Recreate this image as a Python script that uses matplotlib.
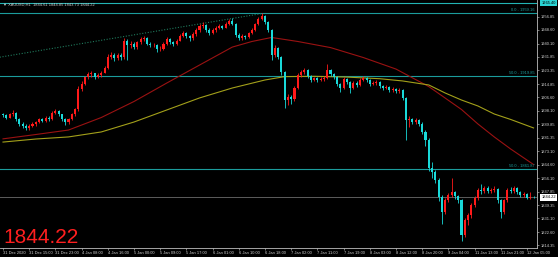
import matplotlib
matplotlib.use("Agg")
from matplotlib import pyplot as plt
from matplotlib import transforms

#%% Data (XAUUSD H1)
opens = [1896.0, 1895.5, 1894.0, 1896.0, 1897.0, 1893.0, 1890.0, 1889.0, 1887.5, 1889.0,
         1890.0, 1891.0, 1893.0, 1892.0, 1894.0, 1893.0, 1897.0, 1898.0, 1896.0, 1893.0,
         1891.0, 1893.0, 1896.0, 1899.0, 1912.0, 1915.0, 1919.0, 1921.0, 1921.5, 1919.5,
         1920.5, 1922.0, 1925.0, 1932.0, 1933.0, 1931.0, 1933.0, 1931.5, 1942.0, 1939.0,
         1940.0, 1938.0, 1941.0, 1943.0, 1943.5, 1940.0, 1939.0, 1939.5, 1936.5, 1937.0,
         1940.0, 1943.0, 1941.0, 1940.0, 1942.0, 1944.8, 1946.7, 1944.8, 1943.5, 1946.0,
         1948.5, 1951.0, 1951.7, 1948.6, 1946.8, 1948.5, 1950.0, 1951.0, 1950.0, 1952.3,
         1954.2, 1952.3, 1945.4, 1943.6, 1944.8, 1944.0, 1946.7, 1948.6, 1952.3, 1955.4,
         1957.3, 1953.5, 1948.6, 1933.0, 1937.3, 1932.0, 1922.4, 1904.9, 1906.8, 1905.5,
         1912.4, 1920.5, 1922.4, 1923.6, 1920.0, 1917.4, 1918.6, 1917.4, 1918.0, 1918.6,
         1923.6, 1921.1, 1919.2, 1914.9, 1912.4, 1918.0, 1916.1, 1912.4, 1915.5, 1914.3,
         1917.4, 1918.6, 1917.4, 1914.9, 1915.5, 1916.1, 1913.7, 1912.4, 1913.0, 1911.2,
         1911.8, 1910.5, 1911.2, 1906.2, 1892.5, 1893.1, 1891.2, 1892.5, 1890.0, 1885.0,
         1880.0, 1862.5, 1860.0, 1855.0, 1844.5, 1835.1, 1842.6, 1845.7, 1847.6, 1845.1,
         1842.6, 1820.8, 1830.1, 1833.2, 1839.5, 1843.8, 1848.8, 1848.2, 1850.0, 1848.2,
         1848.8, 1849.4, 1842.6, 1835.1, 1842.6, 1848.8, 1848.2, 1850.0, 1847.6, 1845.7,
         1846.3, 1843.8, 1844.61]
closes = [1895.5, 1894.0, 1896.0, 1897.0, 1893.0, 1890.0, 1889.0, 1887.5, 1889.0, 1890.0,
          1891.0, 1893.0, 1892.0, 1894.0, 1893.0, 1897.0, 1898.0, 1896.0, 1893.0, 1891.0,
          1893.0, 1896.0, 1899.0, 1912.0, 1915.0, 1919.0, 1921.0, 1921.5, 1919.5, 1920.5,
          1922.0, 1925.0, 1932.0, 1933.0, 1931.0, 1933.0, 1931.5, 1942.0, 1939.0, 1940.0,
          1938.0, 1941.0, 1943.0, 1943.5, 1940.0, 1939.0, 1939.5, 1936.5, 1937.0, 1940.0,
          1943.0, 1941.0, 1940.0, 1942.0, 1944.8, 1946.7, 1944.8, 1943.5, 1946.0, 1948.5,
          1951.0, 1951.7, 1948.6, 1946.8, 1948.5, 1950.0, 1951.0, 1950.0, 1952.3, 1954.2,
          1952.3, 1945.4, 1943.6, 1944.8, 1944.0, 1946.7, 1948.6, 1952.3, 1955.4, 1957.3,
          1953.5, 1948.6, 1933.0, 1937.3, 1932.0, 1922.4, 1904.9, 1906.8, 1905.5, 1912.4,
          1920.5, 1922.4, 1923.6, 1920.0, 1917.4, 1918.6, 1917.4, 1918.0, 1918.6, 1923.6,
          1921.1, 1919.2, 1914.9, 1912.4, 1918.0, 1916.1, 1912.4, 1915.5, 1914.3, 1917.4,
          1918.6, 1917.4, 1914.9, 1915.5, 1916.1, 1913.7, 1912.4, 1913.0, 1911.2, 1911.8,
          1910.5, 1911.2, 1906.2, 1892.5, 1893.1, 1891.2, 1892.5, 1890.0, 1885.0, 1880.0,
          1862.5, 1860.0, 1855.0, 1844.5, 1835.1, 1842.6, 1845.7, 1847.6, 1845.1, 1842.6,
          1820.8, 1830.1, 1833.2, 1839.5, 1843.8, 1848.8, 1848.2, 1850.0, 1848.2, 1848.8,
          1849.4, 1842.6, 1835.1, 1842.6, 1848.8, 1848.2, 1850.0, 1847.6, 1845.7, 1846.3,
          1843.8, 1844.61, 1844.22]
highs = [1897.0, 1896.5, 1897.0, 1898.5, 1897.5, 1893.5, 1891.0, 1890.0, 1890.0, 1891.5,
         1892.0, 1894.0, 1894.0, 1895.0, 1895.0, 1898.0, 1899.5, 1898.5, 1896.5, 1894.0,
         1894.0, 1897.0, 1900.0, 1913.5, 1916.5, 1920.0, 1922.5, 1923.0, 1922.0, 1921.5,
         1923.0, 1926.0, 1933.5, 1935.0, 1934.0, 1934.5, 1934.0, 1943.5, 1943.0, 1941.5,
         1941.0, 1942.0, 1944.5, 1945.0, 1944.0, 1941.0, 1940.5, 1940.0, 1938.5, 1941.0,
         1944.0, 1943.5, 1942.0, 1943.0, 1946.0, 1948.0, 1947.5, 1945.5, 1947.0, 1949.5,
         1952.0, 1953.5, 1952.0, 1949.5, 1949.5, 1951.0, 1952.0, 1951.5, 1953.5, 1955.5,
         1956.0, 1953.0, 1946.5, 1946.0, 1945.5, 1947.5, 1949.5, 1953.0, 1956.5, 1959.2,
         1958.0, 1954.0, 1949.0, 1939.0, 1938.0, 1932.5, 1923.0, 1908.5, 1908.0, 1913.5,
         1921.5, 1923.5, 1925.0, 1924.0, 1920.5, 1919.5, 1919.5, 1919.0, 1920.0, 1927.4,
         1924.5, 1922.0, 1920.0, 1915.5, 1919.0, 1918.5, 1917.0, 1916.5, 1916.5, 1918.5,
         1920.0, 1919.5, 1918.0, 1916.5, 1917.5, 1916.5, 1914.5, 1914.5, 1913.5, 1913.0,
         1912.5, 1912.5, 1912.0, 1907.0, 1895.0, 1894.0, 1894.0, 1893.0, 1891.0, 1886.0,
         1881.0, 1866.0, 1861.5, 1856.0, 1845.5, 1844.0, 1847.0, 1856.3, 1848.5, 1846.0,
         1843.0, 1831.5, 1834.5, 1840.5, 1845.0, 1850.0, 1852.8, 1851.5, 1851.0, 1850.0,
         1851.0, 1850.0, 1843.5, 1843.5, 1850.0, 1850.5, 1851.0, 1850.5, 1848.5, 1847.5,
         1847.0, 1847.5, 1844.85]
lows = [1894.5, 1893.0, 1893.5, 1895.0, 1892.0, 1888.5, 1887.5, 1886.0, 1886.5, 1888.0,
        1889.0, 1890.5, 1891.0, 1891.5, 1892.0, 1892.5, 1896.0, 1895.0, 1892.0, 1889.5,
        1890.0, 1892.5, 1895.0, 1898.0, 1910.5, 1914.0, 1918.0, 1919.5, 1918.0, 1918.5,
        1919.5, 1921.5, 1924.0, 1930.5, 1929.5, 1930.0, 1930.0, 1930.5, 1930.0, 1937.5,
        1936.5, 1937.0, 1940.0, 1942.0, 1939.0, 1938.0, 1938.0, 1935.0, 1935.5, 1936.0,
        1939.5, 1940.0, 1938.5, 1939.0, 1941.5, 1944.0, 1943.5, 1941.5, 1942.5, 1945.0,
        1947.5, 1950.0, 1947.0, 1945.5, 1946.0, 1947.5, 1949.0, 1949.0, 1949.5, 1951.5,
        1951.5, 1944.5, 1942.5, 1942.5, 1943.0, 1943.5, 1946.0, 1948.0, 1951.5, 1954.5,
        1952.5, 1947.0, 1929.9, 1932.0, 1930.5, 1920.5, 1899.9, 1901.5, 1902.5, 1904.5,
        1911.5, 1919.0, 1921.0, 1918.5, 1916.0, 1916.5, 1916.0, 1916.5, 1917.0, 1918.0,
        1920.0, 1918.0, 1913.5, 1910.0, 1911.5, 1915.0, 1909.5, 1911.5, 1913.0, 1913.5,
        1916.5, 1916.0, 1913.5, 1914.0, 1914.5, 1912.5, 1911.0, 1911.5, 1910.0, 1910.0,
        1909.5, 1909.5, 1905.0, 1880.0, 1888.0, 1890.0, 1890.0, 1888.5, 1883.5, 1876.5,
        1860.5, 1856.0, 1853.0, 1842.0, 1827.6, 1834.0, 1841.5, 1844.5, 1843.5, 1841.0,
        1817.0, 1819.5, 1827.0, 1831.5, 1838.0, 1842.5, 1846.5, 1847.0, 1847.0, 1847.0,
        1847.5, 1841.0, 1831.5, 1834.0, 1841.5, 1847.0, 1847.0, 1846.5, 1844.5, 1844.5,
        1843.5, 1843.5, 1843.73]

time_labels = ["31 Dec 2020", "31 Dec 15:00", "31 Dec 23:00", "4 Jan 08:00", "4 Jan 16:00",
               "5 Jan 00:00", "5 Jan 09:00", "5 Jan 17:00", "6 Jan 01:00", "6 Jan 10:00",
               "6 Jan 18:00", "7 Jan 02:00", "7 Jan 11:00", "7 Jan 19:00", "8 Jan 03:00",
               "8 Jan 12:00", "8 Jan 20:00", "9 Jan 04:00", "11 Jan 13:00", "11 Jan 21:00",
               "12 Jan 05:00"]
price_ticks = [1956.85, 1948.60, 1940.10, 1931.85, 1923.35, 1914.85, 1906.60, 1898.10, 1889.85,
               1881.35, 1873.10, 1864.60, 1856.10, 1847.85, 1839.35, 1831.10, 1822.60, 1814.35]

# moving averages (bar index, value)
ma_red_bars = [0, 10, 20, 30, 40, 50, 60, 70, 76, 82, 90, 100, 110, 120, 130, 140, 145, 150, 155, 162]
ma_red_vals = [1880.7, 1883.4, 1886.2, 1894.0, 1904.0, 1915.5, 1926.7, 1937.9, 1941.4, 1943.9,
               1941.4, 1937.6, 1931.4, 1924.2, 1913.3, 1899.0, 1890.0, 1881.9, 1874.4, 1864.7]
ma_yel_bars = [0, 10, 20, 30, 40, 50, 60, 70, 80, 86, 95, 105, 115, 122, 130, 135, 140, 145, 150, 155, 162]
ma_yel_vals = [1878.7, 1880.6, 1881.9, 1885.0, 1891.2, 1898.7, 1906.2, 1912.4, 1917.4, 1919.5,
               1919.7, 1919.2, 1918.2, 1916.8, 1914.3, 1909.3, 1904.9, 1901.2, 1896.2, 1892.8, 1887.5]

fib_levels = [1959.16, 1919.85, 1861.87]
fib_names = ["0.0", "50.0", "50.0"]
top_line = 1965.40
trend_bars = [-1, 79]
trend_vals = [1931.6, 1958.8]
last_price = 1844.22
header = "XAUUSD,H1  1844.61 1844.85 1843.73 1844.22"

#%% Plot
BULL = "#ff1a1a"
BEAR = "#19d9d9"
FIB = "#1b9c9c"
SMALL = 2.9

fig = plt.figure(figsize=(5.58, 2.57), dpi=100, facecolor="black")
ax = fig.add_axes([0, 9 / 257, 537 / 558, 248 / 257])
ax.set_facecolor("black")

bars = list(range(len(closes)))
colors = [BULL if c >= o else BEAR for o, c in zip(opens, closes)]
ax.vlines(bars, lows, highs, colors=colors, linewidth=0.6, zorder=3)
bottoms = [min(o, c) for o, c in zip(opens, closes)]
heights = [max(abs(c - o), 0.35) for o, c in zip(opens, closes)]
ax.bar(bars, heights, bottom=bottoms, width=0.62, color=colors, linewidth=0, zorder=3)

ax.plot(ma_red_bars, ma_red_vals, color="#9a1212", linewidth=0.8, zorder=2)
ax.plot(ma_yel_bars, ma_yel_vals, color="#a3a01a", linewidth=0.8, zorder=2)
ax.plot(trend_bars, trend_vals, color="#1f7a5c", linewidth=0.8, linestyle=(0, (1, 1.5)), zorder=2)

ax.axhline(top_line, color="#22b4b4", linewidth=0.8, zorder=1)
for lvl, name in zip(fib_levels, fib_names):
    ax.axhline(lvl, color=FIB, linewidth=0.8, zorder=1)
    ax.text(0.996, lvl + 0.5, f"{name} - {lvl:.2f}", transform=transforms.blended_transform_factory(ax.transAxes, ax.transData),
            ha="right", va="bottom", fontsize=SMALL, color=FIB, family="Liberation Sans")
ax.axhline(last_price, color="#5c5c5c", linewidth=0.7, zorder=1)

ax.set_xlim(-0.92, 163.05)
ax.set_ylim(1812.66, 1967.26)

# price scale on the right
ax.yaxis.tick_right()
ax.set_yticks(price_ticks)
ax.set_yticklabels([f"{p:.2f}" for p in price_ticks], family="Liberation Sans")
ax.set_xticks(list(range(0, 161, 8)))
ax.set_xticklabels(time_labels, family="Liberation Sans")
for lab in ax.get_xticklabels():
    lab.set_ha("left")
ax.tick_params(colors="#cfcfcf", labelsize=SMALL, length=1.5, width=0.4, pad=1)
for side in ("top", "left"):
    ax.spines[side].set_visible(False)
for side in ("right", "bottom"):
    ax.spines[side].set_color("#bdbdbd")
    ax.spines[side].set_linewidth(0.6)

blend = transforms.blended_transform_factory(ax.transAxes, ax.transData)
ax.text(1.008, top_line, f"{top_line:.2f}", transform=blend, ha="left", va="center",
        fontsize=SMALL, color="black", family="Liberation Sans",
        bbox=dict(boxstyle="square,pad=0.35", facecolor="#2ad4d4", edgecolor="none"), clip_on=False)
ax.text(1.008, last_price, f"{last_price:.2f}", transform=blend, ha="left", va="center",
        fontsize=SMALL, color="black", family="Liberation Sans",
        bbox=dict(boxstyle="square,pad=0.35", facecolor="white", edgecolor="none"), clip_on=False)

ax.text(0.006, 1 - 5 / 248, "\u25bc " + header, transform=ax.transAxes, ha="left", va="center",
        fontsize=SMALL, color="#c8c8c8", family=["Liberation Sans", "DejaVu Sans"])

fig.text(3 / 558, 14 / 257, f"{last_price:.2f}", color="#ff1f1f", fontsize=15,
         family="Liberation Sans", ha="left", va="baseline")

fig.savefig("out.png", dpi=100, facecolor="black")
